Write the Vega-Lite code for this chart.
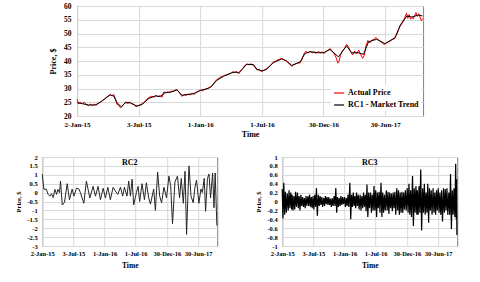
{
  "$schema": "https://vega.github.io/schema/vega-lite/v6.json",
  "background": "white",
  "padding": {"left": 15, "top": 1, "right": 4, "bottom": 4},
  "center": true,
  "spacing": 14,
  "resolve": {"legend": {"color": "independent"}},
  "config": {
    "font": "Liberation Serif",
    "view": {"stroke": "#7f7f7f", "strokeWidth": 1},
    "axis": {
      "labelFont": "Liberation Serif", "labelFontWeight": "bold", "labelColor": "black",
      "titleFont": "Liberation Serif", "titleFontWeight": "bold", "titleColor": "black",
      "domain": false, "ticks": false, "gridColor": "#d9d9d9", "gridWidth": 1,
      "labelFlush": false, "labelOverlap": false
    },
    "title": {"font": "Liberation Serif", "fontWeight": "bold", "color": "black"}
  },
  "datasets": {
    "trend": [
      {"t":"2015-01-02","v":24.8},{"t":"2015-01-17","v":24.5},{"t":"2015-02-05","v":24.0},{"t":"2015-02-25","v":24.0},
      {"t":"2015-03-17","v":25.5},{"t":"2015-03-31","v":26.9},{"t":"2015-04-10","v":27.6},{"t":"2015-04-20","v":27.3},
      {"t":"2015-04-30","v":24.8},{"t":"2015-05-13","v":23.3},{"t":"2015-05-24","v":24.8},{"t":"2015-06-08","v":24.8},
      {"t":"2015-06-28","v":23.6},{"t":"2015-07-13","v":24.2},{"t":"2015-08-02","v":26.4},{"t":"2015-08-21","v":27.3},
      {"t":"2015-09-05","v":27.1},{"t":"2015-09-19","v":28.5},{"t":"2015-10-09","v":28.8},{"t":"2015-10-24","v":29.5},
      {"t":"2015-11-08","v":27.5},{"t":"2015-11-22","v":27.8},{"t":"2015-12-12","v":28.1},{"t":"2016-01-01","v":29.3},
      {"t":"2016-01-26","v":30.1},{"t":"2016-02-04","v":30.9},{"t":"2016-02-19","v":33.0},{"t":"2016-03-10","v":34.5},
      {"t":"2016-04-03","v":35.7},{"t":"2016-04-13","v":36.0},{"t":"2016-04-23","v":35.7},{"t":"2016-05-03","v":36.9},
      {"t":"2016-05-17","v":38.8},{"t":"2016-06-06","v":38.7},{"t":"2016-06-16","v":37.0},{"t":"2016-07-01","v":36.4},
      {"t":"2016-07-15","v":37.0},{"t":"2016-08-04","v":39.4},{"t":"2016-08-29","v":40.8},{"t":"2016-09-12","v":40.0},
      {"t":"2016-09-27","v":38.4},{"t":"2016-10-22","v":39.7},{"t":"2016-11-05","v":42.7},{"t":"2016-11-20","v":43.4},
      {"t":"2016-12-15","v":43.0},{"t":"2016-12-30","v":43.0},{"t":"2017-01-18","v":44.2},{"t":"2017-02-12","v":41.5},
      {"t":"2017-03-08","v":45.5},{"t":"2017-03-23","v":43.0},{"t":"2017-04-12","v":43.0},{"t":"2017-04-27","v":42.4},
      {"t":"2017-05-12","v":47.0},{"t":"2017-06-05","v":47.9},{"t":"2017-06-30","v":46.3},{"t":"2017-07-29","v":48.5},
      {"t":"2017-08-13","v":52.7},{"t":"2017-09-02","v":56.4},{"t":"2017-09-16","v":56.0},{"t":"2017-10-06","v":56.7},
      {"t":"2017-10-18","v":56.4}
    ],
    "actual": [
      {"t":"2015-01-02","v":26.1},{"t":"2015-01-06","v":24.6},{"t":"2015-01-12","v":25.0},{"t":"2015-01-18","v":24.4},
      {"t":"2015-01-23","v":25.1},{"t":"2015-01-29","v":24.2},{"t":"2015-02-04","v":23.7},{"t":"2015-02-10","v":24.3},
      {"t":"2015-02-16","v":23.8},{"t":"2015-02-22","v":24.3},{"t":"2015-02-28","v":24.0},{"t":"2015-03-06","v":24.6},
      {"t":"2015-03-12","v":25.0},{"t":"2015-03-18","v":25.7},{"t":"2015-03-24","v":26.0},{"t":"2015-03-30","v":26.7},
      {"t":"2015-04-05","v":27.4},{"t":"2015-04-10","v":27.9},{"t":"2015-04-15","v":27.3},{"t":"2015-04-20","v":27.9},
      {"t":"2015-04-25","v":26.4},{"t":"2015-04-30","v":24.2},{"t":"2015-05-05","v":24.0},{"t":"2015-05-10","v":23.0},
      {"t":"2015-05-15","v":23.6},{"t":"2015-05-20","v":24.3},{"t":"2015-05-26","v":25.2},{"t":"2015-06-01","v":24.6},
      {"t":"2015-06-06","v":25.1},{"t":"2015-06-12","v":24.5},{"t":"2015-06-18","v":24.2},{"t":"2015-06-24","v":23.4},
      {"t":"2015-06-30","v":23.8},{"t":"2015-07-06","v":23.9},{"t":"2015-07-12","v":24.5},{"t":"2015-07-18","v":24.9},
      {"t":"2015-07-24","v":25.6},{"t":"2015-07-30","v":26.5},{"t":"2015-08-05","v":26.9},{"t":"2015-08-11","v":27.2},
      {"t":"2015-08-17","v":26.8},{"t":"2015-08-23","v":27.5},{"t":"2015-08-29","v":27.0},{"t":"2015-09-04","v":27.4},
      {"t":"2015-09-10","v":26.8},{"t":"2015-09-15","v":28.8},{"t":"2015-09-21","v":28.4},{"t":"2015-09-27","v":28.7},
      {"t":"2015-10-03","v":28.5},{"t":"2015-10-09","v":29.1},{"t":"2015-10-15","v":29.0},{"t":"2015-10-21","v":29.7},
      {"t":"2015-10-27","v":29.2},{"t":"2015-11-02","v":28.1},{"t":"2015-11-08","v":27.1},{"t":"2015-11-14","v":27.9},
      {"t":"2015-11-20","v":27.4},{"t":"2015-11-26","v":28.0},{"t":"2015-12-02","v":27.7},{"t":"2015-12-08","v":28.3},
      {"t":"2015-12-14","v":27.9},{"t":"2015-12-20","v":28.6},{"t":"2015-12-26","v":29.0},{"t":"2016-01-01","v":29.5},
      {"t":"2016-01-07","v":29.1},{"t":"2016-01-13","v":29.6},{"t":"2016-01-19","v":29.8},{"t":"2016-01-25","v":30.3},
      {"t":"2016-01-31","v":30.5},{"t":"2016-02-06","v":31.2},{"t":"2016-02-12","v":32.3},{"t":"2016-02-18","v":33.2},
      {"t":"2016-02-24","v":33.7},{"t":"2016-03-01","v":34.2},{"t":"2016-03-07","v":34.3},{"t":"2016-03-13","v":34.8},
      {"t":"2016-03-19","v":34.9},{"t":"2016-03-25","v":35.3},{"t":"2016-03-31","v":35.5},{"t":"2016-04-06","v":36.1},
      {"t":"2016-04-12","v":35.8},{"t":"2016-04-18","v":36.2},{"t":"2016-04-24","v":35.4},{"t":"2016-04-30","v":36.5},
      {"t":"2016-05-06","v":37.4},{"t":"2016-05-12","v":38.5},{"t":"2016-05-18","v":38.9},{"t":"2016-05-24","v":38.6},
      {"t":"2016-05-30","v":39.0},{"t":"2016-06-05","v":38.4},{"t":"2016-06-11","v":37.6},{"t":"2016-06-17","v":36.7},
      {"t":"2016-06-23","v":37.0},{"t":"2016-06-29","v":36.1},{"t":"2016-07-05","v":36.5},{"t":"2016-07-11","v":36.9},
      {"t":"2016-07-17","v":37.5},{"t":"2016-07-23","v":38.1},{"t":"2016-07-29","v":38.8},{"t":"2016-08-04","v":39.7},
      {"t":"2016-08-10","v":39.9},{"t":"2016-08-16","v":40.4},{"t":"2016-08-22","v":40.6},{"t":"2016-08-28","v":41.0},
      {"t":"2016-09-03","v":40.5},{"t":"2016-09-09","v":40.2},{"t":"2016-09-15","v":39.5},{"t":"2016-09-21","v":38.9},
      {"t":"2016-09-27","v":38.0},{"t":"2016-10-03","v":38.7},{"t":"2016-10-09","v":38.9},{"t":"2016-10-15","v":39.3},
      {"t":"2016-10-21","v":39.2},{"t":"2016-10-27","v":40.5},{"t":"2016-11-02","v":42.6},{"t":"2016-11-08","v":43.6},
      {"t":"2016-11-14","v":42.8},{"t":"2016-11-20","v":43.6},{"t":"2016-11-26","v":42.9},{"t":"2016-12-02","v":43.3},
      {"t":"2016-12-08","v":42.7},{"t":"2016-12-14","v":43.5},{"t":"2016-12-20","v":43.0},{"t":"2016-12-26","v":43.3},
      {"t":"2017-01-01","v":42.8},{"t":"2017-01-07","v":43.5},{"t":"2017-01-13","v":44.0},{"t":"2017-01-19","v":44.5},
      {"t":"2017-01-25","v":43.5},{"t":"2017-01-31","v":42.5},{"t":"2017-02-06","v":41.0},{"t":"2017-02-10","v":39.2},
      {"t":"2017-02-14","v":40.0},{"t":"2017-02-18","v":42.0},{"t":"2017-02-24","v":43.8},{"t":"2017-03-02","v":44.6},
      {"t":"2017-03-08","v":46.1},{"t":"2017-03-14","v":45.0},{"t":"2017-03-20","v":43.4},{"t":"2017-03-26","v":42.2},
      {"t":"2017-04-01","v":43.6},{"t":"2017-04-07","v":42.6},{"t":"2017-04-13","v":44.0},{"t":"2017-04-19","v":42.2},
      {"t":"2017-04-25","v":41.0},{"t":"2017-04-29","v":42.0},{"t":"2017-05-04","v":45.4},{"t":"2017-05-10","v":47.5},
      {"t":"2017-05-16","v":46.6},{"t":"2017-05-22","v":47.6},{"t":"2017-05-28","v":47.9},{"t":"2017-06-03","v":48.6},
      {"t":"2017-06-09","v":47.7},{"t":"2017-06-15","v":47.2},{"t":"2017-06-21","v":46.6},{"t":"2017-06-27","v":46.0},
      {"t":"2017-07-03","v":46.6},{"t":"2017-07-09","v":46.9},{"t":"2017-07-15","v":47.3},{"t":"2017-07-21","v":47.8},
      {"t":"2017-07-27","v":48.0},{"t":"2017-08-02","v":49.3},{"t":"2017-08-08","v":51.3},{"t":"2017-08-14","v":53.2},
      {"t":"2017-08-20","v":54.2},{"t":"2017-08-26","v":55.5},{"t":"2017-09-01","v":57.4},{"t":"2017-09-05","v":55.5},
      {"t":"2017-09-09","v":56.9},{"t":"2017-09-13","v":55.2},{"t":"2017-09-17","v":55.9},{"t":"2017-09-21","v":55.3},
      {"t":"2017-09-25","v":56.4},{"t":"2017-09-29","v":57.6},{"t":"2017-10-03","v":56.2},{"t":"2017-10-07","v":57.2},
      {"t":"2017-10-11","v":56.0},{"t":"2017-10-15","v":54.6},{"t":"2017-10-18","v":55.4}
    ],
    "rc2": [
      {"t":"2015-01-02","v":1.03},{"t":"2015-01-12","v":0.18},{"t":"2015-01-25","v":0.2},{"t":"2015-02-06","v":-0.1},
      {"t":"2015-02-16","v":-0.2},{"t":"2015-02-25","v":-0.06},{"t":"2015-03-07","v":-0.28},{"t":"2015-03-17","v":0.18},
      {"t":"2015-03-27","v":-0.1},{"t":"2015-04-03","v":0.18},{"t":"2015-04-13","v":0.0},{"t":"2015-04-19","v":0.65},
      {"t":"2015-04-29","v":-0.7},{"t":"2015-05-12","v":-0.55},{"t":"2015-05-28","v":0.5},{"t":"2015-06-10","v":-0.4},
      {"t":"2015-06-26","v":0.2},{"t":"2015-07-06","v":-0.2},{"t":"2015-07-21","v":0.25},{"t":"2015-08-04","v":0.2},
      {"t":"2015-08-13","v":0.0},{"t":"2015-09-02","v":-0.6},{"t":"2015-09-17","v":0.65},{"t":"2015-10-07","v":-0.3},
      {"t":"2015-10-26","v":0.35},{"t":"2015-11-09","v":-0.2},{"t":"2015-11-24","v":0.35},{"t":"2015-12-08","v":-0.4},
      {"t":"2015-12-24","v":0.25},{"t":"2016-01-06","v":-0.3},{"t":"2016-01-20","v":0.3},{"t":"2016-02-04","v":-0.4},
      {"t":"2016-02-20","v":0.3},{"t":"2016-03-04","v":0.1},{"t":"2016-03-18","v":-0.1},{"t":"2016-04-03","v":0.3},
      {"t":"2016-04-16","v":-0.2},{"t":"2016-04-26","v":0.3},{"t":"2016-05-11","v":-0.2},{"t":"2016-05-21","v":0.65},
      {"t":"2016-05-31","v":-0.2},{"t":"2016-06-10","v":0.75},{"t":"2016-06-19","v":-0.7},{"t":"2016-07-05","v":0.0},
      {"t":"2016-07-15","v":0.35},{"t":"2016-07-24","v":-0.5},{"t":"2016-08-07","v":0.5},{"t":"2016-08-21","v":-0.4},
      {"t":"2016-09-01","v":0.55},{"t":"2016-09-15","v":-0.3},{"t":"2016-09-25","v":-0.65},{"t":"2016-10-14","v":0.2},
      {"t":"2016-10-24","v":-1.0},{"t":"2016-11-06","v":1.15},{"t":"2016-11-18","v":-0.2},{"t":"2016-11-29","v":-0.57},
      {"t":"2016-12-13","v":0.3},{"t":"2016-12-28","v":-0.3},{"t":"2017-01-11","v":0.93},{"t":"2017-01-21","v":0.4},
      {"t":"2017-02-01","v":-1.75},{"t":"2017-02-15","v":0.6},{"t":"2017-03-02","v":0.93},{"t":"2017-03-14","v":-0.3},
      {"t":"2017-03-24","v":0.8},{"t":"2017-04-05","v":-0.6},{"t":"2017-04-15","v":1.2},{"t":"2017-04-24","v":-2.35},
      {"t":"2017-05-08","v":1.5},{"t":"2017-05-20","v":-0.2},{"t":"2017-06-02","v":-0.57},{"t":"2017-06-12","v":0.3},
      {"t":"2017-06-21","v":0.7},{"t":"2017-07-05","v":-0.6},{"t":"2017-07-17","v":0.2},{"t":"2017-07-25","v":0.0},
      {"t":"2017-08-05","v":0.8},{"t":"2017-08-13","v":-1.05},{"t":"2017-08-24","v":0.8},{"t":"2017-09-02","v":1.05},
      {"t":"2017-09-11","v":-0.3},{"t":"2017-09-23","v":1.1},{"t":"2017-10-01","v":-0.85},{"t":"2017-10-08","v":1.1},
      {"t":"2017-10-18","v":-1.85}
    ],
    "rc3": [
      {"t":"2015-01-02","v":0.28},{"t":"2015-01-06","v":-0.38},{"t":"2015-01-11","v":0.42},{"t":"2015-01-16","v":-0.3},{"t":"2015-01-21","v":0.22},{"t":"2015-01-26","v":-0.25},
      {"t":"2015-02-01","v":0.18},{"t":"2015-02-06","v":-0.2},{"t":"2015-02-11","v":0.25},{"t":"2015-02-16","v":-0.15},{"t":"2015-02-21","v":0.2},{"t":"2015-02-26","v":-0.18},
      {"t":"2015-03-01","v":0.15},{"t":"2015-03-06","v":-0.2},{"t":"2015-03-11","v":0.12},{"t":"2015-03-16","v":-0.18},{"t":"2015-03-21","v":0.22},{"t":"2015-03-26","v":-0.12},
      {"t":"2015-04-01","v":0.2},{"t":"2015-04-06","v":-0.15},{"t":"2015-04-11","v":0.12},{"t":"2015-04-16","v":-0.2},{"t":"2015-04-21","v":0.15},{"t":"2015-04-26","v":-0.1},
      {"t":"2015-05-01","v":0.1},{"t":"2015-05-06","v":-0.12},{"t":"2015-05-11","v":0.08},{"t":"2015-05-16","v":-0.15},{"t":"2015-05-21","v":0.12},{"t":"2015-05-26","v":-0.1},
      {"t":"2015-06-01","v":0.12},{"t":"2015-06-06","v":-0.1},{"t":"2015-06-11","v":0.15},{"t":"2015-06-16","v":-0.12},{"t":"2015-06-21","v":0.1},{"t":"2015-06-26","v":-0.15},
      {"t":"2015-07-01","v":0.12},{"t":"2015-07-06","v":-0.18},{"t":"2015-07-11","v":0.15},{"t":"2015-07-16","v":-0.12},{"t":"2015-07-21","v":0.3},{"t":"2015-07-26","v":-0.32},
      {"t":"2015-08-01","v":0.15},{"t":"2015-08-06","v":-0.1},{"t":"2015-08-11","v":0.12},{"t":"2015-08-16","v":-0.08},{"t":"2015-08-21","v":0.1},{"t":"2015-08-26","v":-0.12},
      {"t":"2015-09-01","v":0.08},{"t":"2015-09-06","v":-0.1},{"t":"2015-09-11","v":0.12},{"t":"2015-09-16","v":-0.06},{"t":"2015-09-21","v":0.1},{"t":"2015-09-26","v":-0.08},
      {"t":"2015-10-01","v":0.1},{"t":"2015-10-06","v":-0.08},{"t":"2015-10-11","v":0.06},{"t":"2015-10-16","v":-0.12},{"t":"2015-10-21","v":0.08},{"t":"2015-10-26","v":-0.1},
      {"t":"2015-11-01","v":0.12},{"t":"2015-11-06","v":-0.1},{"t":"2015-11-11","v":0.3},{"t":"2015-11-16","v":-0.25},{"t":"2015-11-21","v":0.1},{"t":"2015-11-26","v":-0.12},
      {"t":"2015-12-01","v":0.08},{"t":"2015-12-06","v":-0.1},{"t":"2015-12-11","v":0.12},{"t":"2015-12-16","v":-0.08},{"t":"2015-12-21","v":0.1},{"t":"2015-12-26","v":-0.06},
      {"t":"2016-01-01","v":0.1},{"t":"2016-01-06","v":-0.12},{"t":"2016-01-11","v":0.08},{"t":"2016-01-16","v":-0.1},{"t":"2016-01-21","v":0.15},{"t":"2016-01-26","v":-0.12},
      {"t":"2016-02-01","v":0.42},{"t":"2016-02-06","v":-0.4},{"t":"2016-02-11","v":0.15},{"t":"2016-02-16","v":-0.12},{"t":"2016-02-21","v":0.2},{"t":"2016-02-26","v":-0.1},
      {"t":"2016-03-01","v":0.12},{"t":"2016-03-06","v":-0.15},{"t":"2016-03-11","v":0.2},{"t":"2016-03-16","v":-0.1},{"t":"2016-03-21","v":0.15},{"t":"2016-03-26","v":-0.18},
      {"t":"2016-04-01","v":0.15},{"t":"2016-04-06","v":-0.2},{"t":"2016-04-11","v":0.12},{"t":"2016-04-16","v":-0.15},{"t":"2016-04-21","v":0.2},{"t":"2016-04-26","v":-0.12},
      {"t":"2016-05-01","v":0.15},{"t":"2016-05-06","v":-0.22},{"t":"2016-05-11","v":0.38},{"t":"2016-05-16","v":-0.35},{"t":"2016-05-21","v":0.2},{"t":"2016-05-26","v":-0.15},
      {"t":"2016-06-01","v":0.2},{"t":"2016-06-06","v":-0.25},{"t":"2016-06-11","v":0.15},{"t":"2016-06-16","v":-0.2},{"t":"2016-06-21","v":0.35},{"t":"2016-06-26","v":-0.2},
      {"t":"2016-07-01","v":0.25},{"t":"2016-07-06","v":-0.35},{"t":"2016-07-11","v":0.2},{"t":"2016-07-16","v":-0.15},{"t":"2016-07-21","v":0.22},{"t":"2016-07-26","v":-0.25},
      {"t":"2016-08-01","v":0.42},{"t":"2016-08-06","v":-0.35},{"t":"2016-08-11","v":0.2},{"t":"2016-08-16","v":-0.25},{"t":"2016-08-21","v":0.15},{"t":"2016-08-26","v":-0.2},
      {"t":"2016-09-01","v":0.25},{"t":"2016-09-06","v":-0.2},{"t":"2016-09-11","v":0.22},{"t":"2016-09-16","v":-0.28},{"t":"2016-09-21","v":0.2},{"t":"2016-09-26","v":-0.15},
      {"t":"2016-10-01","v":0.18},{"t":"2016-10-06","v":-0.22},{"t":"2016-10-11","v":0.2},{"t":"2016-10-16","v":-0.15},{"t":"2016-10-21","v":0.22},{"t":"2016-10-26","v":-0.3},
      {"t":"2016-11-01","v":0.3},{"t":"2016-11-06","v":-0.2},{"t":"2016-11-11","v":0.25},{"t":"2016-11-16","v":-0.3},{"t":"2016-11-21","v":0.2},{"t":"2016-11-26","v":-0.25},
      {"t":"2016-12-01","v":0.22},{"t":"2016-12-06","v":-0.25},{"t":"2016-12-11","v":0.2},{"t":"2016-12-16","v":-0.18},{"t":"2016-12-21","v":0.25},{"t":"2016-12-26","v":-0.2},
      {"t":"2017-01-01","v":0.3},{"t":"2017-01-06","v":-0.25},{"t":"2017-01-11","v":0.4},{"t":"2017-01-16","v":-0.3},{"t":"2017-01-21","v":0.25},{"t":"2017-01-26","v":-0.35},
      {"t":"2017-02-01","v":0.57},{"t":"2017-02-06","v":-0.55},{"t":"2017-02-11","v":0.3},{"t":"2017-02-16","v":-0.25},{"t":"2017-02-21","v":0.35},{"t":"2017-02-26","v":-0.3},
      {"t":"2017-03-01","v":0.25},{"t":"2017-03-06","v":-0.3},{"t":"2017-03-11","v":0.35},{"t":"2017-03-16","v":-0.25},{"t":"2017-03-21","v":0.72},{"t":"2017-03-26","v":-0.65},
      {"t":"2017-04-01","v":0.3},{"t":"2017-04-06","v":-0.25},{"t":"2017-04-11","v":0.4},{"t":"2017-04-16","v":-0.3},{"t":"2017-04-21","v":0.2},{"t":"2017-04-26","v":-0.25},
      {"t":"2017-05-01","v":0.4},{"t":"2017-05-06","v":-0.48},{"t":"2017-05-11","v":0.3},{"t":"2017-05-16","v":-0.2},{"t":"2017-05-21","v":0.25},{"t":"2017-05-26","v":-0.3},
      {"t":"2017-06-01","v":0.3},{"t":"2017-06-06","v":-0.25},{"t":"2017-06-11","v":0.2},{"t":"2017-06-16","v":-0.3},{"t":"2017-06-21","v":0.25},{"t":"2017-06-26","v":-0.2},
      {"t":"2017-07-01","v":0.3},{"t":"2017-07-06","v":-0.25},{"t":"2017-07-11","v":0.2},{"t":"2017-07-16","v":-0.3},{"t":"2017-07-21","v":0.25},{"t":"2017-07-26","v":-0.45},
      {"t":"2017-08-01","v":0.3},{"t":"2017-08-06","v":-0.25},{"t":"2017-08-11","v":0.28},{"t":"2017-08-16","v":-0.2},{"t":"2017-08-21","v":0.3},{"t":"2017-08-26","v":-0.3},
      {"t":"2017-09-01","v":0.2},{"t":"2017-09-06","v":-0.3},{"t":"2017-09-11","v":0.62},{"t":"2017-09-16","v":-0.62},{"t":"2017-09-21","v":0.25},{"t":"2017-09-26","v":-0.3},
      {"t":"2017-10-01","v":0.3},{"t":"2017-10-06","v":-0.35},{"t":"2017-10-11","v":0.85},{"t":"2017-10-14","v":-0.4},{"t":"2017-10-16","v":0.5},{"t":"2017-10-18","v":-0.75}
    ]
  },
  "vconcat": [
    {
      "width": 346,
      "height": 110,
      "encoding": {
        "x": {
          "field": "t", "type": "temporal",
          "scale": {"type": "utc", "domain": [{"year": 2015, "month": 1, "date": 2, "utc": true}, {"year": 2017, "month": 10, "date": 20, "utc": true}]},
          "axis": {
            "title": "Time", "format": "%-d-%b-%y", "labelFontSize": 7, "titleFontSize": 8, "labelPadding": 4, "titlePadding": 3,
            "values": [
              {"year": 2015, "month": 1, "date": 2, "utc": true}, {"year": 2015, "month": 7, "date": 3, "utc": true},
              {"year": 2016, "month": 1, "date": 1, "utc": true}, {"year": 2016, "month": 7, "date": 1, "utc": true},
              {"year": 2016, "month": 12, "date": 30, "utc": true}, {"year": 2017, "month": 6, "date": 30, "utc": true}
            ]
          }
        },
        "y": {
          "field": "v", "type": "quantitative",
          "scale": {"domain": [20, 60]},
          "axis": {"title": "Price, $", "values": [20, 25, 30, 35, 40, 45, 50, 55, 60], "labelFontSize": 7.5, "titleFontSize": 8, "labelPadding": 6, "titlePadding": 6}
        }
      },
      "layer": [
        {
          "data": {"name": "actual"},
          "mark": {"type": "line", "strokeWidth": 1},
          "encoding": {
            "color": {
              "datum": "Actual Price",
              "scale": {"domain": ["Actual Price", "RC1 - Market Trend"], "range": ["#ff0000", "#000000"]},
              "legend": {
                "title": null, "orient": "none", "legendX": 254, "legendY": 79,
                "symbolType": "stroke", "symbolSize": 100, "symbolStrokeWidth": 1.2,
                "labelFont": "Liberation Serif", "labelFontWeight": "bold", "labelFontSize": 8, "labelColor": "black",
                "rowPadding": 2, "labelOffset": 3, "fillColor": "white", "padding": 2
              }
            }
          }
        },
        {
          "data": {"name": "trend"},
          "mark": {"type": "line", "strokeWidth": 1},
          "encoding": {"color": {"datum": "RC1 - Market Trend"}}
        }
      ]
    },
    {
      "spacing": 35,
      "hconcat": [
        {
          "width": 175,
          "height": 89,
          "title": {"text": "RC2", "fontSize": 8, "offset": -13},
          "data": {"name": "rc2"},
          "mark": {"type": "line", "strokeWidth": 1, "color": "#262626"},
          "encoding": {
            "x": {
              "field": "t", "type": "temporal",
              "scale": {"type": "utc", "domain": [{"year": 2015, "month": 1, "date": 2, "utc": true}, {"year": 2017, "month": 10, "date": 20, "utc": true}]},
              "axis": {
                "title": "Time", "format": "%-d-%b-%y", "labelFontSize": 6.5, "titleFontSize": 7.5, "labelPadding": 4, "titlePadding": 5,
                "values": [
                  {"year": 2015, "month": 1, "date": 2, "utc": true}, {"year": 2015, "month": 7, "date": 3, "utc": true},
                  {"year": 2016, "month": 1, "date": 1, "utc": true}, {"year": 2016, "month": 7, "date": 1, "utc": true},
                  {"year": 2016, "month": 12, "date": 30, "utc": true}, {"year": 2017, "month": 6, "date": 30, "utc": true}
                ]
              }
            },
            "y": {
              "field": "v", "type": "quantitative",
              "scale": {"domain": [-3, 2]},
              "axis": {"title": "Price, $", "values": [-3, -2.5, -2, -1.5, -1, -0.5, 0, 0.5, 1, 1.5, 2], "labelExpr": "'' + datum.value", "labelFontSize": 6.5, "titleFontSize": 6.5, "labelPadding": 5, "titlePadding": 5}
            }
          }
        },
        {
          "width": 175,
          "height": 89,
          "title": {"text": "RC3", "fontSize": 8, "offset": -13},
          "data": {"name": "rc3"},
          "mark": {"type": "line", "strokeWidth": 1.2, "color": "#000000"},
          "encoding": {
            "x": {
              "field": "t", "type": "temporal",
              "scale": {"type": "utc", "domain": [{"year": 2015, "month": 1, "date": 2, "utc": true}, {"year": 2017, "month": 10, "date": 20, "utc": true}]},
              "axis": {
                "title": "Time", "format": "%-d-%b-%y", "labelFontSize": 6.5, "titleFontSize": 7.5, "labelPadding": 4, "titlePadding": 5,
                "values": [
                  {"year": 2015, "month": 1, "date": 2, "utc": true}, {"year": 2015, "month": 7, "date": 3, "utc": true},
                  {"year": 2016, "month": 1, "date": 1, "utc": true}, {"year": 2016, "month": 7, "date": 1, "utc": true},
                  {"year": 2016, "month": 12, "date": 30, "utc": true}, {"year": 2017, "month": 6, "date": 30, "utc": true}
                ]
              }
            },
            "y": {
              "field": "v", "type": "quantitative",
              "scale": {"domain": [-1, 1]},
              "axis": {"title": "Price, $", "values": [-1, -0.8, -0.6, -0.4, -0.2, 0, 0.2, 0.4, 0.6, 0.8, 1], "labelExpr": "'' + datum.value", "labelFontSize": 6.5, "titleFontSize": 6.5, "labelPadding": 5, "titlePadding": 5}
            }
          }
        }
      ]
    }
  ]
}
